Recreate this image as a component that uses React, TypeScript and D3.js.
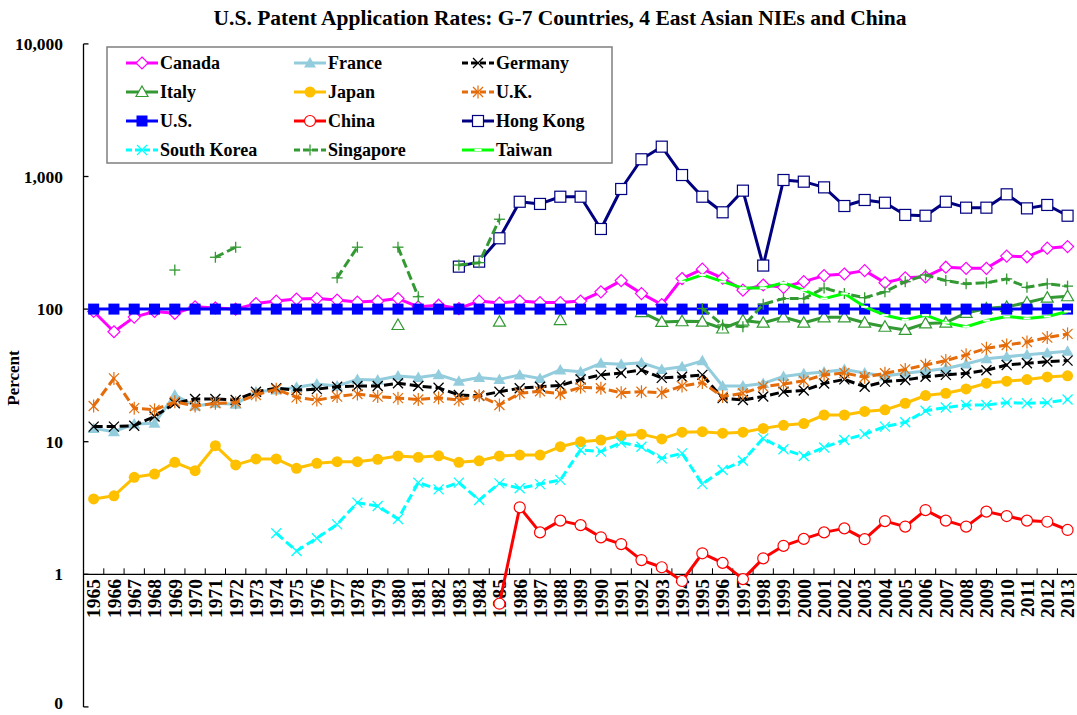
import React from "react";
import * as d3 from "d3";

const years = [
  "1965","1966","1967","1968","1969","1970","1971","1972","1973","1974",
  "1975","1976","1977","1978","1979","1980","1981","1982","1983","1984",
  "1985","1986","1987","1988","1989","1990","1991","1992","1993","1994",
  "1995","1996","1997","1998","1999","2000","2001","2002","2003","2004",
  "2005","2006","2007","2008","2009","2010","2011","2012","2013",
];

const N = null;

const canada = [96, 67.5, 87, 96, 93, 104, 102, 100, 110, 115, 119, 120, 117, 113, 115, 120, 104, 107, 101, 115, 111, 115, 112, 112, 115, 135, 164, 131, 108, 170, 200, 171, 139, 152, 146, 161, 179, 184, 195, 158, 172, 175, 207, 203, 203, 251, 248, 288, 296];
const france = [12.6, 11.9, 13.6, 13.8, 22.5, 18.6, 19.5, 19.2, 23.8, 24.5, 25.7, 27.2, 26.3, 29.5, 29.2, 31.3, 30.5, 32, 28.6, 30.5, 29.5, 31.9, 30, 34.8, 33.7, 39, 38.3, 39.4, 35.1, 36.7, 40.7, 26.3, 26.3, 27.5, 31, 32.5, 33.5, 35, 33, 31.3, 32.8, 34.1, 35.7, 38.5, 42.3, 43.8, 45.2, 46.6, 48.1];
const germany = [13, 13, 13.2, 15.5, 19.5, 21, 21, 20.6, 23.8, 25.3, 24.5, 24.9, 26, 26.3, 26.3, 27.6, 26.3, 25.5, 22.5, 22.2, 23.8, 25.3, 26, 26.5, 29.5, 31.9, 33, 34.7, 30.3, 30.9, 31.9, 21.3, 20.6, 21.9, 23.8, 24.3, 27.5, 29.5, 26, 28.4, 29.2, 30.9, 31.9, 32.8, 34.6, 37.9, 39, 40.2, 40.9];
const italy = [N, N, N, N, N, N, N, N, N, N, N, N, N, N, N, 75.9, N, N, N, N, 80.4, N, N, 82.7, N, N, N, 95, 80, 81, 80.5, 71.4, 82, 79, 86.7, 79, 86.7, 86.7, 79, 73.6, 69.6, 78, 79, 93.6, 101, 104, 112, 122, 125];
const japan = [3.7, 3.91, 5.39, 5.7, 6.99, 6.04, 9.33, 6.68, 7.41, 7.41, 6.3, 6.87, 7.07, 7.07, 7.36, 7.8, 7.62, 7.83, 6.99, 7.17, 7.8, 7.93, 7.93, 9.17, 10, 10.3, 11.1, 11.4, 10.5, 11.8, 11.9, 11.6, 11.8, 12.6, 13.3, 13.7, 15.9, 15.9, 16.9, 17.4, 19.5, 22.3, 23.2, 25, 27.6, 28.6, 29.4, 30.8, 31.4];
const uk = [18.6, 30, 17.9, 17.4, 20, 18.6, 19.5, 19.7, 22.5, 24.9, 21.6, 20.6, 21.9, 22.9, 21.9, 21.3, 20.8, 21.4, 20.6, 22.2, 18.9, 23.2, 24, 23, 25.7, 25.3, 23.4, 23.8, 23.4, 26.3, 27.9, 21.9, 23.2, 26, 27.2, 28.8, 31.9, 33, 30.6, 32.8, 35.1, 37.9, 40.9, 45.2, 50.6, 53.6, 56.5, 61, 65];
const us = [100, 100, 100, 100, 100, 100, 100, 100, 100, 100, 100, 100, 100, 100, 100, 100, 100, 100, 100, 100, 100, 100, 100, 100, 100, 100, 100, 100, 100, 100, 100, 100, 100, 100, 100, 100, 100, 100, 100, 100, 100, 100, 100, 100, 100, 100, 100, 100, 100];
const china = [N, N, N, N, N, N, N, N, N, N, N, N, N, N, N, N, N, N, N, N, 0.6, 3.2, 2.07, 2.54, 2.35, 1.9, 1.69, 1.28, 1.13, 0.89, 1.44, 1.22, 0.92, 1.32, 1.64, 1.85, 2.07, 2.22, 1.84, 2.52, 2.29, 3.05, 2.54, 2.29, 2.97, 2.75, 2.54, 2.49, 2.16];
const hongKong = [N, N, N, N, N, N, N, N, N, N, N, N, N, N, N, N, N, N, 209, 228, 342, 645, 621, 704, 704, 402, 805, 1349, 1679, 1026, 704, 537, 782, 213, 941, 914, 828, 599, 665, 634, 513, 506, 645, 582, 582, 734, 575, 610, 506];
const southKorea = [N, N, N, N, N, N, N, N, N, 2.04, 1.5, 1.87, 2.38, 3.47, 3.27, 2.61, 4.91, 4.37, 4.91, 3.63, 4.85, 4.45, 4.79, 5.15, 8.67, 8.42, 9.84, 9.17, 7.49, 8.17, 4.79, 6.12, 7.19, 10.6, 8.76, 7.8, 9.05, 10.3, 11.4, 13, 14, 17.1, 18.1, 18.9, 18.9, 19.7, 19.5, 19.7, 20.8];
const singapore = [N, N, N, N, 197, N, 246, 293, N, N, N, N, 172, 293, N, 293, 124, N, 215, 224, 476, N, N, N, N, N, N, N, N, N, 101, 76, 73.6, 109, 120, 120, 144, 131, 122, 135, 161, 181, 164, 155, 158, 169, 146, 155, 149];
const taiwan = [N, N, N, N, N, N, N, N, N, N, N, N, N, N, N, N, N, N, N, N, N, N, N, N, N, N, N, N, N, 161, 181, 161, 144, 144, 158, 139, 120, 131, 104, 90, 83, 90, 79, 73.6, 82, 88, 85, 88, 96];

const yTicks = [0.1, 1, 10, 100, 1000, 10000];

type Series = { name: string; values: (number | null)[]; color: string; dash?: string; marker: string };

const series: Series[] = [
  { name: "Canada", values: canada, color: "#FF00FF", marker: "diamondOpen" },
  { name: "France", values: france, color: "#93CDDD", marker: "triFill" },
  { name: "Germany", values: germany, color: "#000000", dash: "9,4", marker: "x" },
  { name: "Italy", values: italy, color: "#339933", marker: "triOpen" },
  { name: "Japan", values: japan, color: "#FFC000", marker: "circleFill" },
  { name: "U.K.", values: uk, color: "#E46C0A", dash: "9,4", marker: "star" },
  { name: "U.S.", values: us, color: "#0000FF", marker: "squareFill" },
  { name: "China", values: china, color: "#FF0000", marker: "circleOpen" },
  { name: "Hong Kong", values: hongKong, color: "#000080", marker: "squareOpen" },
  { name: "South Korea", values: southKorea, color: "#00FFFF", dash: "9,4", marker: "x" },
  { name: "Singapore", values: singapore, color: "#339933", dash: "9,4", marker: "plus" },
  { name: "Taiwan", values: taiwan, color: "#00FF00", marker: "dash" },
];

const W = 1077;
const H = 715;
const FONT = "'Times New Roman', 'Liberation Serif', serif";

function Marker({ type, x, y, color }: { type: string; x: number; y: number; color: string }) {
  switch (type) {
    case "diamondOpen":
      return <path d={`M${x},${y - 6}L${x + 6},${y}L${x},${y + 6}L${x - 6},${y}Z`} fill="#fff" stroke={color} strokeWidth={1.2} />;
    case "triFill":
      return <path d={`M${x},${y - 6}L${x + 6},${y + 4.5}L${x - 6},${y + 4.5}Z`} fill={color} />;
    case "triOpen":
      return <path d={`M${x},${y - 6}L${x + 6},${y + 4.5}L${x - 6},${y + 4.5}Z`} fill="#fff" stroke={color} strokeWidth={1.2} />;
    case "x":
      return (
        <g stroke={color} strokeWidth={1.3}>
          <line x1={x - 5} y1={y - 5} x2={x + 5} y2={y + 5} />
          <line x1={x - 5} y1={y + 5} x2={x + 5} y2={y - 5} />
        </g>
      );
    case "star":
      return (
        <g stroke={color} strokeWidth={1.2}>
          <line x1={x - 5} y1={y - 5} x2={x + 5} y2={y + 5} />
          <line x1={x - 5} y1={y + 5} x2={x + 5} y2={y - 5} />
          <line x1={x} y1={y - 6.5} x2={x} y2={y + 6.5} />
        </g>
      );
    case "plus":
      return (
        <g stroke={color} strokeWidth={1.3}>
          <line x1={x - 5.5} y1={y} x2={x + 5.5} y2={y} />
          <line x1={x} y1={y - 5.5} x2={x} y2={y + 5.5} />
        </g>
      );
    case "circleFill":
      return <circle cx={x} cy={y} r={5.5} fill={color} />;
    case "circleOpen":
      return <circle cx={x} cy={y} r={5.5} fill="#fff" stroke={color} strokeWidth={1.2} />;
    case "squareFill":
      return <rect x={x - 5.5} y={y - 5.5} width={11} height={11} fill={color} />;
    case "squareOpen":
      return <rect x={x - 5.5} y={y - 5.5} width={11} height={11} fill="#fff" stroke={color} strokeWidth={1.2} />;
    case "dash":
      return <rect x={x - 3.5} y={y - 1} width={7} height={2} fill="#fff" />;
    default:
      return null;
  }
}

export default function App() {
  const X0 = 83.5;
  const X1 = 1077.7;
  const Y0 = 706.9;
  const Y1 = 43.9;
  const xb = d3.scaleBand<string>().domain(years).range([X0, X1]).paddingInner(0).paddingOuter(0);
  const bw = xb.bandwidth();
  const cx = (yr: string) => (xb(yr) as number) + bw / 2;
  const y = d3.scaleLog().domain([0.1, 10000]).range([Y0, Y1]);
  const fmt = d3.format(",.0f");
  const axisY = y(1);

  const line = d3
    .line<number | null>()
    .defined((d) => d != null)
    .x((_, i) => cx(years[i]))
    .y((d) => y(d as number));

  const legendCols = [126, 294, 462];
  const legendRows = [63, 92, 121, 150];

  return (
    <svg width={W} height={H} style={{ position: "absolute", left: 0, top: 0, background: "#fff" }} fontFamily={FONT}>
      <rect x={0} y={0} width={W} height={H} fill="#fff" />
      <text x={560} y={25} textAnchor="middle" fontWeight="bold" fontSize={21.5}>
        U.S. Patent Application Rates: G-7 Countries, 4 East Asian NIEs and China
      </text>

      {/* Y axis */}
      <line x1={X0} y1={Y1} x2={X0} y2={Y0} stroke="#000" strokeWidth={1.3} />
      {yTicks.map((t, i) => (
        <g key={t}>
          <line x1={X0} x2={X0 + 5} y1={y(t)} y2={y(t)} stroke="#000" strokeWidth={1.3} />
          <text x={63} y={Math.min(y(t), 703)} dy="0.35em" textAnchor="end" fontWeight="bold" fontSize={17.5}>
            {fmt(t)}
          </text>
        </g>
      ))}
      <text transform={`translate(19,378) rotate(-90)`} textAnchor="middle" fontWeight="bold" fontSize={17}>
        Percent
      </text>

      {/* X axis at 1 */}
      <line x1={X0} x2={X1} y1={axisY} y2={axisY} stroke="#000" strokeWidth={1.3} />
      {years.map((yr) => (
        <line key={"t" + yr} x1={xb(yr) as number} x2={xb(yr) as number} y1={axisY} y2={axisY - 6} stroke="#000" strokeWidth={1} />
      ))}
      {years.map((yr) => (
        <text key={"l" + yr} transform={`translate(${cx(yr)},579) rotate(-90)`} dy="0.35em" textAnchor="end" fontWeight="bold" fontSize={19.5}>
          {yr}
        </text>
      ))}

      {/* series */}
      {series.map((s) => (
        <g key={s.name}>
          <path d={line(s.values) || ""} fill="none" stroke={s.color} strokeWidth={3} strokeDasharray={s.dash} strokeLinejoin="round" />
          {s.values.map((v, i) =>
            v == null ? null : <Marker key={i} type={s.marker} x={cx(years[i])} y={y(v)} color={s.color} />
          )}
        </g>
      ))}

      {/* legend */}
      <rect x={107} y={47} width={505} height={116} fill="#fff" stroke="#7f7f7f" strokeWidth={1.5} />
      {series.map((s, i) => {
        const lx = legendCols[i % 3];
        const ly = legendRows[Math.floor(i / 3)];
        return (
          <g key={"lg" + s.name}>
            <line x1={lx} x2={lx + 32} y1={ly} y2={ly} stroke={s.color} strokeWidth={3} strokeDasharray={s.dash ? "6,3" : undefined} />
            <Marker type={s.marker} x={lx + 16} y={ly} color={s.color} />
            <text x={lx + 34} y={ly} dy="0.35em" fontWeight="bold" fontSize={18}>
              {s.name}
            </text>
          </g>
        );
      })}
    </svg>
  );
}
